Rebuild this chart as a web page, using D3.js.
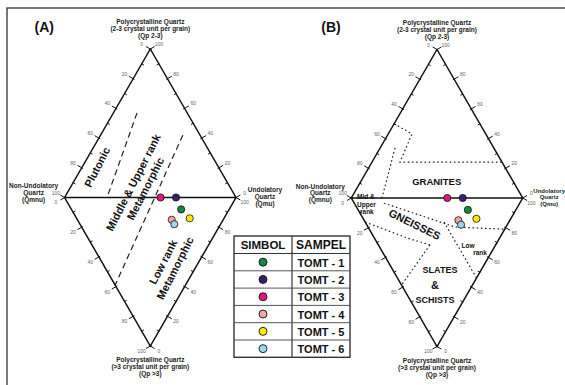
<!DOCTYPE html>
<html><head><meta charset="utf-8">
<script src="https://cdn.jsdelivr.net/npm/d3@7"></script>
<style>html,body{margin:0;padding:0;background:#fff;} svg{display:block;font-family:"Liberation Sans",Arial,sans-serif;}</style>
</head><body><svg id="c" width="565" height="385"></svg>
<script>
// ---- data ----
const samples = ["TOMT - 1","TOMT - 2","TOMT - 3","TOMT - 4","TOMT - 5","TOMT - 6"];
const qmnu = [28, 35, 44, 30, 20, 27];   // Non-undulatory quartz %
const qmu  = [64, 65, 56, 55, 66, 55];   // Undulatory quartz %
const qp3  = [8, 0, 0, 15, 14, 18];      // Polycrystalline quartz (>3 units) %
const colors = ["#13883f","#3a1f70","#e3167f","#f4a3a1","#ffec00","#9fd4ef"];
const tickSteps = [0,10,20,30,40,50,60,70,80,90,100];
const majorTicks = [0,20,40,60,80,100];
// field boundaries (normalized diamond coords u: -1..1 left-right, v: -1 top .. 1 bottom)
const boundsA = [
  [[-0.155,-0.569],[-0.505,0]],
  [[0.38,-0.42],[-0.41,0.59]]
];
const boundsB = [
  [[-0.5,-0.5],[-0.292,-0.431],[-0.432,-0.242],[0.758,-0.242]],
  [[-0.49,-0.337],[-0.642,0]],
  [[-0.62,0.035],[0.21,0.195],[0.79,0.21]],
  [[0.082,0.162],[0.461,0.539]],
  [[-0.838,0.162],[-0.35,0.269],[-0.082,0.316]],
  [[-0.082,0.316],[-0.414,0.586]]
];

const svg = d3.select("#c");
svg.append("rect").attr("width",565).attr("height",385).attr("fill","#fff");
svg.append("rect").attr("x",7).attr("y",8).attr("width",700).attr("height",500)
  .attr("fill","none").attr("stroke","#222").attr("stroke-width",1.2);

function diamond(cx, cy, hw, hh, bounds, dash, label, rightShift, rightSize) {
  const x = d3.scaleLinear().domain([-1,1]).range([cx-hw, cx+hw]);
  const y = d3.scaleLinear().domain([-1,1]).range([cy-hh, cy+hh]);
  const g = svg.append("g");
  const apex=[x(0),y(-1)], left=[x(-1),y(0)], right=[x(1),y(0)], bottom=[x(0),y(1)];
  const line = d3.line();
  bounds.forEach(b => {
    g.append("path").attr("d", line(b.map(p=>[x(p[0]),y(p[1])])))
      .attr("fill","none").attr("stroke","#222").attr("stroke-width",1.2)
      .attr("stroke-dasharray", dash);
  });
  g.append("path").attr("d", line([apex,left,bottom,right,apex]))
    .attr("fill","none").attr("stroke","#111").attr("stroke-width",1.5);
  g.append("path").attr("d", line([left,right]))
    .attr("fill","none").attr("stroke","#111").attr("stroke-width",1.5);
  const edges = [
    {p0:apex, p1:left, lab:v=>v},
    {p0:apex, p1:right, lab:v=>100-v},
    {p0:left, p1:bottom, lab:v=>v},
    {p0:right, p1:bottom, lab:v=>100-v}
  ];
  edges.forEach(e => {
    const dx=e.p1[0]-e.p0[0], dy=e.p1[1]-e.p0[1], L=Math.hypot(dx,dy);
    let n=[dy/L,-dx/L];
    const mx=(e.p0[0]+e.p1[0])/2, my=(e.p0[1]+e.p1[1])/2;
    if ((mx-cx)*n[0]+(my-cy)*n[1] < 0) n=[-n[0],-n[1]];
    tickSteps.forEach(v => {
      const t=v/100, px=e.p0[0]+t*dx, py=e.p0[1]+t*dy;
      const major = majorTicks.includes(v);
      const a = major ? -1.5 : -2.5, b = major ? 5 : 0.5;
      g.append("line").attr("x1",px+n[0]*a).attr("y1",py+n[1]*a)
        .attr("x2",px+n[0]*b).attr("y2",py+n[1]*b)
        .attr("stroke","#111").attr("stroke-width",1);
      if (major) {
        g.append("text").attr("x",px+n[0]*10).attr("y",py+n[1]*10)
          .attr("text-anchor","middle").attr("dominant-baseline","central")
          .attr("font-size",5).attr("fill","#666").text(e.lab(v));
      }
    });
  });
  samples.forEach((s,i) => {
    const u = (qmu[i]-qmnu[i])/100, v = qp3[i]/100;
    g.append("circle").attr("cx",x(u)).attr("cy",y(v)).attr("r",3.6)
      .attr("fill",colors[i]).attr("stroke","#111").attr("stroke-width",0.8);
  });
  const title = (lines, tx, ty, sp, size) => {
    const t = g.append("text").attr("font-size",size||6.5).attr("font-weight","bold")
      .attr("fill","#222").attr("text-anchor","middle");
    lines.forEach((l,k)=>t.append("tspan").attr("x",tx).attr("y",ty+k*sp).text(l));
  };
  title(["Polycrystalline Quartz","(2-3 crystal unit per grain)","(Qp 2-3)"], cx, cy-hh-25, 7);
  title(["Polycrystalline Quartz","(>3 crystal unit per grain)","(Qp >3)"], cx, cy+hh+16, 7.2);
  title(["Non-Undolatory","Quartz","(Qmnu)"], cx-hw-31, cy-9.5, 6.8);
  title(["Undolatory","Quartz","(Qmu)"], cx+hw+29-rightShift, cy-5.5, 6.8, rightSize);
  g.append("text").attr("x",cx-106).attr("y",cy-166).attr("text-anchor","middle")
    .attr("font-size",14).attr("font-weight","bold").attr("fill","#111").text(label);
  return {x,y,g};
}

const A = diamond(150.3, 197.5, 85.7, 148.5, boundsA, "6,4", "(A)", 0, 6.5);
const B = diamond(437, 198, 85.7, 148.5, boundsB, "1.6,2.6", "(B)", 2.5, 6);

function rotLabel(g, cx, cy, ang, lines, size, weight) {
  const t = g.append("g").attr("transform",`translate(${cx},${cy}) rotate(${ang})`);
  const n = lines.length;
  lines.forEach((l,k) => {
    t.append("text").attr("x",0).attr("y",(k-(n-1)/2)*13.5)
      .attr("text-anchor","middle").attr("dominant-baseline","central")
      .attr("font-size",size).attr("font-weight",weight).attr("fill","#111").text(l);
  });
}
rotLabel(A.g, 97, 167, -63, ["Plutonic"], 11, "bold");
rotLabel(A.g, 139.3, 185.5, -63, ["Middle & Upper rank","Metamorphic"], 11, "bold");
rotLabel(A.g, 169, 265, -63, ["Low rank","Metamorphic"], 11, "bold");

const bt = (txt, x, y, size, w, anchor) => B.g.append("text").attr("x",x).attr("y",y)
  .attr("text-anchor",anchor||"middle").attr("dominant-baseline","central")
  .attr("font-size",size).attr("font-weight",w).attr("fill","#111").text(txt);
bt("GRANITES", 436.7, 181, 9.5, "bold");
rotLabel(B.g, 414.7, 224.3, 26, ["GNEISSES"], 11, "bold");
bt("SLATES", 440, 270, 9, "bold");
bt("&", 435, 284.5, 11, "bold");
bt("SCHISTS", 435, 300, 9, "bold");
bt("Low", 468, 245.5, 6.5, "bold");
bt("rank", 480, 252, 6.5, "bold");
bt("Mid &", 357, 196.5, 6.5, "bold", "start");
bt("Upper", 357, 204, 6.5, "bold", "start");
bt("rank", 360, 211, 6.5, "bold", "start");

const lx0 = 234, lxDiv = 292, lx1 = 350, ly0 = 236, ly1 = 253.5, ly2 = 357.3;
const rows = d3.scaleBand().domain(samples).range([ly1, ly2]);
const lg = svg.append("g");
lg.append("rect").attr("x",lx0).attr("y",ly0).attr("width",lx1-lx0).attr("height",ly2-ly0)
  .attr("fill","#fff").attr("stroke","#333").attr("stroke-width",1.4);
lg.append("line").attr("x1",lxDiv).attr("x2",lxDiv).attr("y1",ly0).attr("y2",ly2)
  .attr("stroke","#333").attr("stroke-width",1.2);
lg.append("line").attr("x1",lx0).attr("x2",lx1).attr("y1",ly1).attr("y2",ly1)
  .attr("stroke","#333").attr("stroke-width",1.2);
samples.forEach((s,i) => {
  if (i>0) lg.append("line").attr("x1",lx0).attr("x2",lx1)
    .attr("y1",rows(s)).attr("y2",rows(s)).attr("stroke","#555").attr("stroke-width",1);
  const cy = rows(s) + rows.bandwidth()/2;
  lg.append("circle").attr("cx",(lx0+lxDiv)/2).attr("cy",cy).attr("r",4)
    .attr("fill",colors[i]).attr("stroke","#111").attr("stroke-width",0.9);
  lg.append("text").attr("x",(lxDiv+lx1)/2).attr("y",cy+0.5).attr("text-anchor","middle")
    .attr("dominant-baseline","central").attr("font-size",11).attr("font-weight","bold")
    .attr("fill","#111").text(s);
});
lg.append("text").attr("x",(lx0+lxDiv)/2).attr("y",(ly0+ly1)/2+0.5).attr("text-anchor","middle")
  .attr("dominant-baseline","central").attr("font-size",11.5).attr("font-weight","bold")
  .attr("fill","#111").text("SIMBOL");
lg.append("text").attr("x",(lxDiv+lx1)/2).attr("y",(ly0+ly1)/2+0.5).attr("text-anchor","middle")
  .attr("dominant-baseline","central").attr("font-size",12).attr("font-weight","bold")
  .attr("fill","#111").text("SAMPEL");
</script></body></html>
